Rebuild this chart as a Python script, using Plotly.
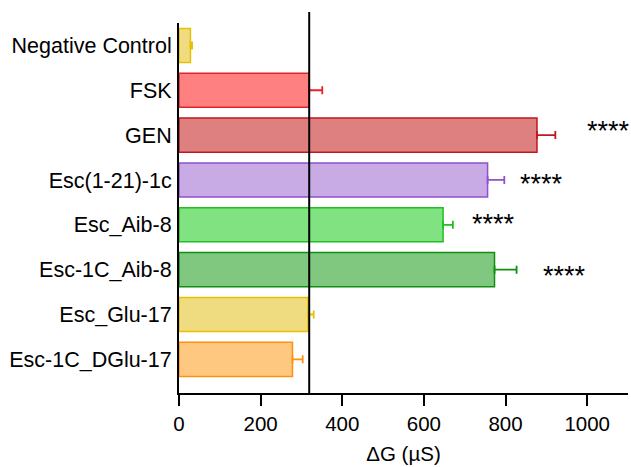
import plotly.graph_objects as go

categories = ["Negative Control", "FSK", "GEN", "Esc(1-21)-1c", "Esc_Aib-8",
              "Esc-1C_Aib-8", "Esc_Glu-17", "Esc-1C_DGlu-17"]
values = [28, 319, 877, 756, 647, 773, 316, 278]
errors = [4, 32, 45, 41, 24, 54, 14, 25]
significance = ["", "", "****", "****", "****", "****", "", ""]
reference_value = 319

fills = ["#F0DC80", "#FF8080", "#DF8080", "#C8AAE4", "#80E280", "#80C880", "#F0DC80", "#FFC880"]
edges = ["#E8C000", "#E82028", "#C01820", "#9050D0", "#20C020", "#109010", "#E8C000", "#FF9010"]
# annotation placement (data x of star label centre, y offset in category units)
star_x = {2: 1052, 3: 887, 4: 771, 5: 944}
star_dy = {2: -0.15, 3: 0.04, 4: -0.08, 5: 0.09}

fig = go.Figure()
for i, cat in enumerate(categories):
    fig.add_trace(go.Bar(
        x=[values[i]], y=[cat], orientation="h",
        marker=dict(color=fills[i], line=dict(color=edges[i], width=1.5)),
        width=0.76,
        error_x=dict(type="data", array=[errors[i]], arrayminus=[0], symmetric=False,
                     color=edges[i], thickness=1.8, width=4),
        showlegend=False,
    ))

for i, s in enumerate(significance):
    if s:
        fig.add_annotation(x=star_x[i], y=i + star_dy[i] + 0.06, text=s, showarrow=False,
                           xref="x", yref="y", font=dict(size=27, color="black"),
                           xanchor="center", yanchor="middle")

fig.add_shape(type="line", xref="x", yref="paper", x0=reference_value, x1=reference_value,
              y0=0, y1=1.03, line=dict(color="black", width=2))

fig.update_layout(
    width=631, height=467,
    margin=dict(l=179, r=3, t=23, b=74, autoexpand=False),
    plot_bgcolor="white", paper_bgcolor="white",
    barmode="overlay",
    font=dict(family="Liberation Sans, Arial, sans-serif", size=20, color="black"),
    xaxis=dict(range=[0, 1100], tickvals=[0, 200, 400, 600, 800, 1000],
               showline=True, linecolor="black", linewidth=2, ticks="outside",
               ticklen=11, tickwidth=2, tickcolor="black", showgrid=False, zeroline=False,
               automargin=False,
               title=dict(text="ΔG (µS)", standoff=13, font=dict(size=20.5)),
               tickfont=dict(size=20.5)),
    yaxis=dict(categoryorder="array", categoryarray=categories, autorange=False,
               range=[7.75, -0.5], showline=True, linecolor="black", linewidth=2,
               ticks="", showgrid=False, zeroline=False, ticklabelstandoff=1,
               automargin=False, tickfont=dict(size=21.5)),
)

fig.write_html("out.html", config={"displayModeBar": False},
               post_script="document.body.style.margin='0';")
